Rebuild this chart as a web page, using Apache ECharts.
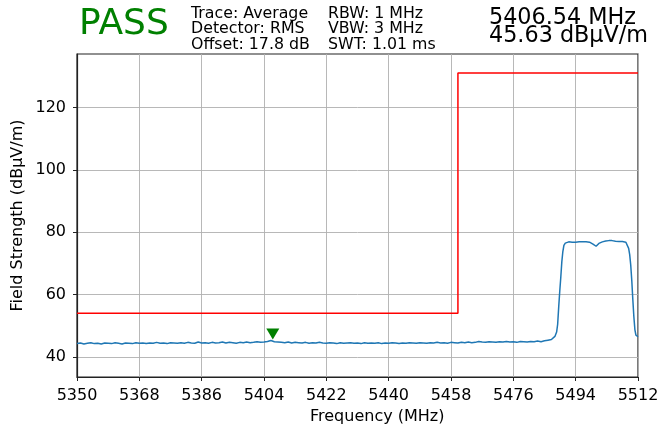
<!DOCTYPE html>
<html><head><meta charset="utf-8">
<script src="https://cdn.jsdelivr.net/npm/echarts@6/dist/echarts.min.js"></script>
<style>html,body{margin:0;padding:0;background:#fff}#c{width:657px;height:427px}</style>
</head><body><div id="c"></div>
<script>
// ---- data ----
const xTicks = [5350, 5368, 5386, 5404, 5422, 5440, 5458, 5476, 5494, 5512];
const yTicks = [40, 60, 80, 100, 120];

const floorStart = 5350;
const floorStep = 1;
const floorValues = [
  44.3, 44.5, 44.2, 44.4, 44.6, 44.3, 44.4, 44.2, 44.5, 44.4,
  44.3, 44.6, 44.4, 44.2, 44.5, 44.4, 44.3, 44.6, 44.4, 44.5,
  44.3, 44.5, 44.4, 44.7, 44.4, 44.5, 44.3, 44.6, 44.5, 44.4,
  44.6, 44.4, 44.7, 44.5, 44.4, 44.8, 44.5, 44.6, 44.4, 44.7,
  44.5, 44.6, 44.8, 44.5, 44.7, 44.6, 44.4, 44.7, 44.6, 44.8,
  44.6, 44.7, 44.9, 44.7, 44.8, 45.0, 45.3, 44.9, 44.8, 44.7,
  44.6, 44.8, 44.5, 44.7, 44.6, 44.5, 44.7, 44.4, 44.6, 44.5,
  44.7, 44.5, 44.4, 44.6, 44.5, 44.3, 44.6, 44.4, 44.5, 44.6,
  44.4, 44.5, 44.3, 44.6, 44.4, 44.5, 44.4, 44.6, 44.3, 44.5,
  44.4, 44.6, 44.5, 44.3, 44.5, 44.4, 44.6, 44.5, 44.4, 44.6,
  44.5, 44.4, 44.6, 44.5, 44.7, 44.5, 44.6, 44.4, 44.7, 44.6,
  44.5, 44.7, 44.6, 44.8, 44.6, 44.7, 45.0, 44.8, 44.7, 44.9,
  44.8, 44.7, 44.9, 44.8, 45.0, 44.8, 44.9, 44.7, 45.0, 44.9,
  44.8, 45.0, 44.9, 45.1, 44.9, 45.2, 45.4
];

// signal burst near the band edge
const edgeFreqs = [
  5487, 5487.5, 5488, 5488.5, 5488.8, 5489.1, 5489.4, 5489.7, 5490.0, 5490.3,
  5490.6, 5491.0, 5491.5, 5492, 5492.5, 5493, 5493.5, 5494, 5494.5, 5495,
  5495.5, 5496, 5496.5, 5497, 5497.5, 5498, 5498.5, 5499, 5499.5, 5499.9,
  5500.3, 5500.7, 5501.2, 5501.7, 5502.2, 5502.7, 5503.2, 5503.6, 5504, 5504.5,
  5505, 5505.5, 5506, 5506.5, 5507, 5507.5, 5508, 5508.5, 5509, 5509.3,
  5509.6, 5509.9, 5510.2, 5510.5, 5510.8, 5511.1, 5511.4, 5511.7, 5512
];
const edgeValues = [
  45.6, 46.0, 46.6, 48.0, 50.5, 56.0, 61.0, 65.5, 70.5, 73.8,
  75.8, 76.5, 76.7, 76.9, 76.6, 76.8, 77.0, 76.8, 77.1, 76.9,
  77.2, 76.9, 77.1, 76.9, 77.0, 76.8, 76.6, 76.2, 75.7, 75.5,
  75.9, 76.4, 76.8, 76.9, 77.1, 77.2, 77.5, 77.3, 77.1, 77.3,
  77.0, 77.1, 76.9, 77.0, 76.8, 77.0, 76.9, 76.8, 76.2, 74.8,
  72.8, 69.5, 64.6, 58.5, 53.0, 48.8, 47.0, 46.4, 46.5
];

const limitFreqs = [5350, 5460, 5460, 5512];
const limitValues = [54, 54, 131, 131];

const markerFreqs = [5406.54];
const markerValues = [45.63];

const statusText = 'PASS';
const settingsLeft = ['Trace: Average', 'Detector: RMS', 'Offset: 17.8 dB'];
const settingsMid = ['RBW: 1 MHz', 'VBW: 3 MHz', 'SWT: 1.01 ms'];
const readout = ['5406.54 MHz', '45.63 dBµV/m'];
const xName = 'Frequency (MHz)';
const yName = 'Field Strength (dBµV/m)';

// ---- build ----
const traceData = floorValues.map((v, i) => [floorStart + i * floorStep, v])
  .concat(edgeFreqs.map((f, i) => [f, edgeValues[i]]));
const limitData = limitFreqs.map((f, i) => [f, limitValues[i]]);
const markerData = markerFreqs.map((f, i) => [f, markerValues[i]]);

const FONT = 'DejaVu Sans';
const txt = (s, x, y, size, extra) => Object.assign({
  type: 'text', x: x, y: y, silent: true,
  style: { text: s, fontFamily: FONT, fontSize: size, fill: '#000', align: 'left', verticalAlign: 'middle' }
}, extra || {});

const graphics = [
  txt(statusText, 79, 25, 36),
  txt(settingsLeft[0], 191, 13.7, 15.8),
  txt(settingsLeft[1], 191, 29.2, 15.8),
  txt(settingsLeft[2], 191, 44.7, 15.8),
  txt(settingsMid[0], 328, 13.7, 15.8),
  txt(settingsMid[1], 328, 29.2, 15.8),
  txt(settingsMid[2], 328, 44.7, 15.8),
  txt(readout[0], 489, 18, 22.3),
  txt(readout[1], 489, 36.7, 22.3),
  txt(xName, 310, 416.5, 16),
  txt(yName, 17.5, 215.5, 16, { rotation: Math.PI / 2 })
];
graphics[0].style.fill = '#008000';
graphics[10].style.align = 'center';

const plain = v => String(v);

const chart = echarts.init(document.getElementById('c'), null, { renderer: 'canvas' });
chart.setOption({
  animation: false,
  backgroundColor: '#fff',
  grid: { left: 77, right: 19, top: 54, bottom: 50, containLabel: false, outerBoundsMode: 'none',
    show: true, borderColor: '#222', borderWidth: 1.2, backgroundColor: 'transparent' },
  xAxis: {
    type: 'value', min: 5350, max: 5512,
    axisLine: { show: true, lineStyle: { color: '#222', width: 1.2 } },
    axisTick: { show: true, length: 4, lineStyle: { color: '#222', width: 1 }, customValues: xTicks },
    axisLabel: { customValues: xTicks, formatter: plain, margin: 11, color: '#000', fontFamily: FONT, fontSize: 16 },
    splitLine: { show: true, lineStyle: { color: '#b0b0b0', width: 0.9 } }
  },
  yAxis: {
    type: 'value', min: 33.6, max: 137.1,
    axisLine: { show: true, lineStyle: { color: '#222', width: 1.2 } },
    axisTick: { show: true, length: 4, lineStyle: { color: '#222', width: 1 }, customValues: yTicks },
    axisLabel: { customValues: yTicks, formatter: plain, margin: 11, color: '#000', fontFamily: FONT, fontSize: 16 },
    splitLine: { show: true, lineStyle: { color: '#b0b0b0', width: 0.9 } }
  },
  graphic: graphics,
  series: [
    { type: 'line', data: traceData, showSymbol: false, symbol: 'none',
      lineStyle: { color: '#1f77b4', width: 1.5 }, z: 3 },
    { type: 'line', data: limitData, showSymbol: false, symbol: 'none',
      lineStyle: { color: '#ff0000', width: 1.5 }, z: 4 },
    { type: 'scatter', data: markerData, symbol: 'triangle', symbolRotate: 180,
      symbolSize: [13, 11], symbolOffset: [0, -5.5], itemStyle: { color: '#008000', opacity: 1 }, z: 5 }
  ]
});
</script></body></html>
